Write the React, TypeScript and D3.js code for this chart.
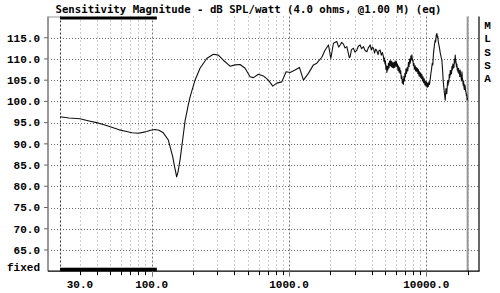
import React from "react";
import * as d3 from "d3";

const TITLE = "Sensitivity Magnitude - dB SPL/watt (4.0 ohms, @1.00 M) (eq)";
const SIDE_LETTERS = ["M", "L", "S", "S", "A"];
const Y_TICKS = [65, 70, 75, 80, 85, 90, 95, 100, 105, 110, 115];
const X_TICKS = [30, 100, 1000, 10000];
const X_TICK_LABELS = ["30.0", "100.0", "1000.0", "10000.0"];
const DATA_START = 21.5;
const DATA_END = 20000;
const BAR_RANGE = [21.5, 109];

// [frequency Hz, dB SPL]
const BASS: [number, number][] = [
  [21.5, 96.4], [25, 96.1], [30, 95.9], [35, 95.4], [39.7, 95.0], [45, 94.5], [51.1, 93.9],
  [58, 93.3], [65.7, 92.9], [72, 92.6], [79.8, 92.5], [86, 92.7], [91.9, 92.9], [98, 93.2],
  [105.7, 93.4], [113, 93.2], [121.5, 92.6], [132.2, 90.9], [142.2, 87.0], [147, 84.5],
  [152, 82.2], [156, 83.6], [161, 86.3], [166, 89.6], [170, 92.2], [175, 95.4], [185, 99.3],
];

const MID: [number, number][] = [
  [190.2, 101.0], [206.8, 105.0], [224.9, 107.8], [251.7, 110.1], [281.2, 111.1], [305.8, 110.9],
  [332.6, 109.7], [372.2, 108.3], [404.8, 108.6], [440.1, 108.7], [478.6, 107.8], [520.6, 105.8],
  [550.2, 105.6], [598.4, 106.4], [650.8, 106.0], [707.7, 105.0], [762, 103.6], [815.1, 104.3],
  [886.1, 104.6], [952.6, 107.0], [1019, 106.8], [1108, 107.4], [1191, 108.0], [1274, 105.0],
  [1385, 106.6], [1506, 108.6], [1594, 109.0], [1734, 110.4], [1833, 112.1], [1938, 113.3],
  [2017, 110.1], [2107, 113.7], [2230, 114.1], [2300, 112.8], [2357, 113.3], [2420, 113.9],
  [2492, 113.5], [2560, 112.6], [2638, 112.9], [2700, 111.5], [2750, 110.3], [2788, 110.5],
  [2850, 112.2], [2948, 112.5], [3020, 111.6], [3121, 112.1], [3200, 113.0], [3298, 113.3],
  [3380, 112.4], [3486, 112.9], [3580, 112.0], [3691, 111.7], [3780, 112.6], [3900, 113.3],
  [3980, 112.1], [4050, 112.8], [4123, 112.5], [4200, 111.4], [4280, 112.3], [4365, 111.9],
  [4450, 111.0], [4530, 112.0], [4613, 112.1], [4700, 110.9], [4790, 111.5],
];

const TREBLE: [number, number][] = [
  [4876, 110.5], [4920, 109.4], [4960, 110.2], [5000, 108.8], [5040, 109.5], [5080, 107.6],
  [5120, 108.4], [5162, 106.8], [5200, 108.2], [5250, 107.4], [5300, 109.0], [5350, 107.9],
  [5400, 109.5], [5457, 108.4], [5510, 109.6], [5560, 108.2], [5610, 109.4], [5660, 108.0],
  [5710, 109.1], [5768, 107.9], [5820, 109.2], [5880, 108.0], [5940, 109.5], [6000, 108.3],
  [6060, 109.4], [6106, 108.2], [6160, 108.8], [6220, 107.3], [6280, 108.3], [6340, 106.9],
  [6400, 107.9], [6454, 106.6], [6510, 107.2], [6570, 105.4], [6630, 106.0], [6690, 104.3],
  [6752, 105.2], [6810, 104.0], [6870, 105.9], [6930, 104.8], [6990, 106.6], [7050, 105.8],
  [7110, 107.6], [7180, 106.6], [7250, 108.0], [7330, 107.2], [7418, 109.2], [7490, 108.2],
  [7560, 110.0], [7640, 109.0], [7720, 110.7], [7800, 109.8], [7852, 111.0], [7920, 109.6],
  [7990, 109.8], [8060, 108.4], [8130, 108.9], [8200, 107.6], [8301, 108.4], [8370, 107.2],
  [8450, 108.0], [8530, 107.0], [8610, 107.8], [8690, 106.5], [8773, 107.5], [8860, 106.0],
  [8940, 107.0], [9030, 105.7], [9110, 106.7], [9200, 105.4], [9288, 106.3], [9380, 104.8],
  [9470, 105.8], [9560, 104.4], [9660, 105.3], [9760, 103.9], [9860, 104.8], [9950, 103.6],
  [10050, 104.5], [10150, 103.3], [10250, 104.3], [10350, 103.5], [10450, 104.6], [10550, 104.0],
  [10680, 105.2], [10800, 106.6], [10900, 107.4], [11050, 109.0], [11150, 108.6], [11280, 111.3],
  [11450, 113.2], [11600, 114.4], [11700, 114.0], [11810, 115.6], [11950, 116.0], [12050, 115.0],
  [12100, 115.4], [12270, 113.7], [12450, 112.8], [12650, 111.3], [12850, 110.3], [12990, 109.7],
  [13150, 107.2], [13300, 104.5], [13500, 102.4], [13730, 100.3], [13900, 103.0], [14100, 101.8],
  [14300, 104.8], [14400, 103.8], [14520, 105.0], [14620, 104.6], [14700, 106.4], [14820, 105.6],
  [14950, 107.3], [15050, 106.3], [15150, 107.2], [15250, 106.5], [15370, 108.2], [15480, 107.4],
  [15600, 108.8], [15700, 107.8], [15800, 108.6], [15900, 108.0], [16000, 109.9], [16120, 109.0],
  [16240, 110.9], [16350, 109.8], [16450, 109.4], [16580, 108.2], [16700, 108.8], [16800, 107.4],
  [16900, 107.9], [17030, 106.9], [17170, 107.8], [17280, 106.6], [17400, 107.2], [17520, 105.9],
  [17650, 107.4], [17780, 106.2], [17900, 105.8], [18040, 104.8], [18180, 107.0], [18300, 105.6],
  [18400, 105.2], [18550, 103.8], [18700, 104.8], [18820, 103.2], [18950, 102.8], [19080, 103.9],
  [19210, 103.4], [19340, 102.4], [19450, 102.2], [19580, 101.4], [19700, 101.6], [19850, 100.3],
  [20000, 100.8],
];

const W = 500;
const H = 293;

export default function App() {
  const x = d3.scaleLog().domain([17.57, 24200]).range([48, 479]);
  const y = d3.scaleLinear().domain([60, 120]).range([271.2, 16.5]);

  const pts: [number, number][] = [...BASS, ...MID, ...TREBLE];
  const line = d3
    .line<[number, number]>()
    .x((d) => x(d[0]))
    .y((d) => y(d[1]));

  const gridFreqs: number[] = [];
  [10, 100, 1000, 10000].forEach((dec) => {
    for (let m = 1; m <= 9; m++) {
      const f = dec * m;
      if (f >= 30 && f <= 20000) gridFreqs.push(f);
    }
  });
  const isMajor = (f: number) => f === 100 || f === 1000 || f === 10000;

  const mono = "'Liberation Mono', 'DejaVu Sans Mono', monospace";
  const left = 48;
  const right = 479;
  const top = 16.5;
  const bottom = 271.2;

  return (
    <svg
      width={W}
      height={H}
      viewBox={`0 0 ${W} ${H}`}
      style={{ position: "absolute", left: 0, top: 0, display: "block", background: "#fff" }}
    >
      <rect x={0} y={0} width={W} height={H} fill="#fff" />
      <text
        x={248.5}
        y={13}
        textAnchor="middle"
        fontFamily="'DejaVu Sans Mono', monospace"
        fontWeight="bold"
        fontSize={10.7}
        fill="#000"
      >
        {TITLE}
      </text>

      {Y_TICKS.map((v) => (
        <line
          key={"h" + v}
          x1={left}
          x2={right}
          y1={Math.round(y(v)) + 0.5}
          y2={Math.round(y(v)) + 0.5}
          stroke="#666"
          strokeWidth={1}
          strokeDasharray="1,2"
        />
      ))}

      {gridFreqs.map((f) => (
        <line
          key={"v" + f}
          x1={Math.round(x(f)) + 0.5}
          x2={Math.round(x(f)) + 0.5}
          y1={top}
          y2={bottom}
          stroke={isMajor(f) ? "#777" : "#999"}
          strokeWidth={1}
          strokeDasharray={isMajor(f) ? "2,2" : "1,3"}
        />
      ))}

      <line
        x1={Math.round(x(DATA_START)) + 0.5}
        x2={Math.round(x(DATA_START)) + 0.5}
        y1={top}
        y2={bottom}
        stroke="#333"
        strokeWidth={1}
        strokeDasharray="2,2"
      />
      <line x1={x(DATA_END)} x2={x(DATA_END)} y1={top} y2={bottom} stroke="#999" strokeWidth={2} />

      <line x1={left} x2={left} y1={top} y2={bottom} stroke="#999" strokeWidth={2} />
      <line x1={left} x2={x(BAR_RANGE[0])} y1={top + 0.5} y2={top + 0.5} stroke="#999" strokeWidth={1} />
      <line x1={left} x2={right + 0.5} y1={bottom} y2={bottom} stroke="#000" strokeWidth={1.2} />
      <line x1={right} x2={right} y1={top} y2={bottom} stroke="#000" strokeWidth={1.2} />

      <rect x={x(BAR_RANGE[0])} y={top} width={x(BAR_RANGE[1]) - x(BAR_RANGE[0])} height={3} fill="#000" />
      <rect
        x={x(BAR_RANGE[0])}
        y={bottom - 3.5}
        width={x(BAR_RANGE[1]) - x(BAR_RANGE[0])}
        height={3.5}
        fill="#000"
      />

      {Y_TICKS.map((v) => (
        <g key={"yl" + v}>
          <line x1={44} x2={left} y1={y(v)} y2={y(v)} stroke="#666" strokeWidth={1} />
          <text x={40} y={y(v) + 3.8} textAnchor="end" fontFamily={mono} fontWeight="bold" fontSize={11} fill="#000">
            {v.toFixed(1)}
          </text>
        </g>
      ))}
      <text x={40} y={271} textAnchor="end" fontFamily={mono} fontWeight="bold" fontSize={11} fill="#000">
        fixed
      </text>

      {gridFreqs.map((f) => (
        <line
          key={"xt" + f}
          x1={Math.round(x(f)) + 0.5}
          x2={Math.round(x(f)) + 0.5}
          y1={bottom}
          y2={bottom + (isMajor(f) ? 5.5 : 4)}
          stroke={isMajor(f) ? "#777" : "#000"}
          strokeWidth={1}
        />
      ))}
      {X_TICKS.map((f, i) => (
        <text key={"xl" + f} x={x(f)} y={288} textAnchor="middle" fontFamily={mono} fontWeight="bold" fontSize={11} fill="#000">
          {X_TICK_LABELS[i]}
        </text>
      ))}

      {SIDE_LETTERS.map((c, i) => (
        <text key={"s" + i} x={487.5} y={29 + i * 13.3} textAnchor="middle" fontFamily={mono} fontWeight="bold" fontSize={11} fill="#000">
          {c}
        </text>
      ))}

      <path d={line(pts) || ""} fill="none" stroke="#111" strokeWidth={1.1} strokeLinejoin="round" />
    </svg>
  );
}
